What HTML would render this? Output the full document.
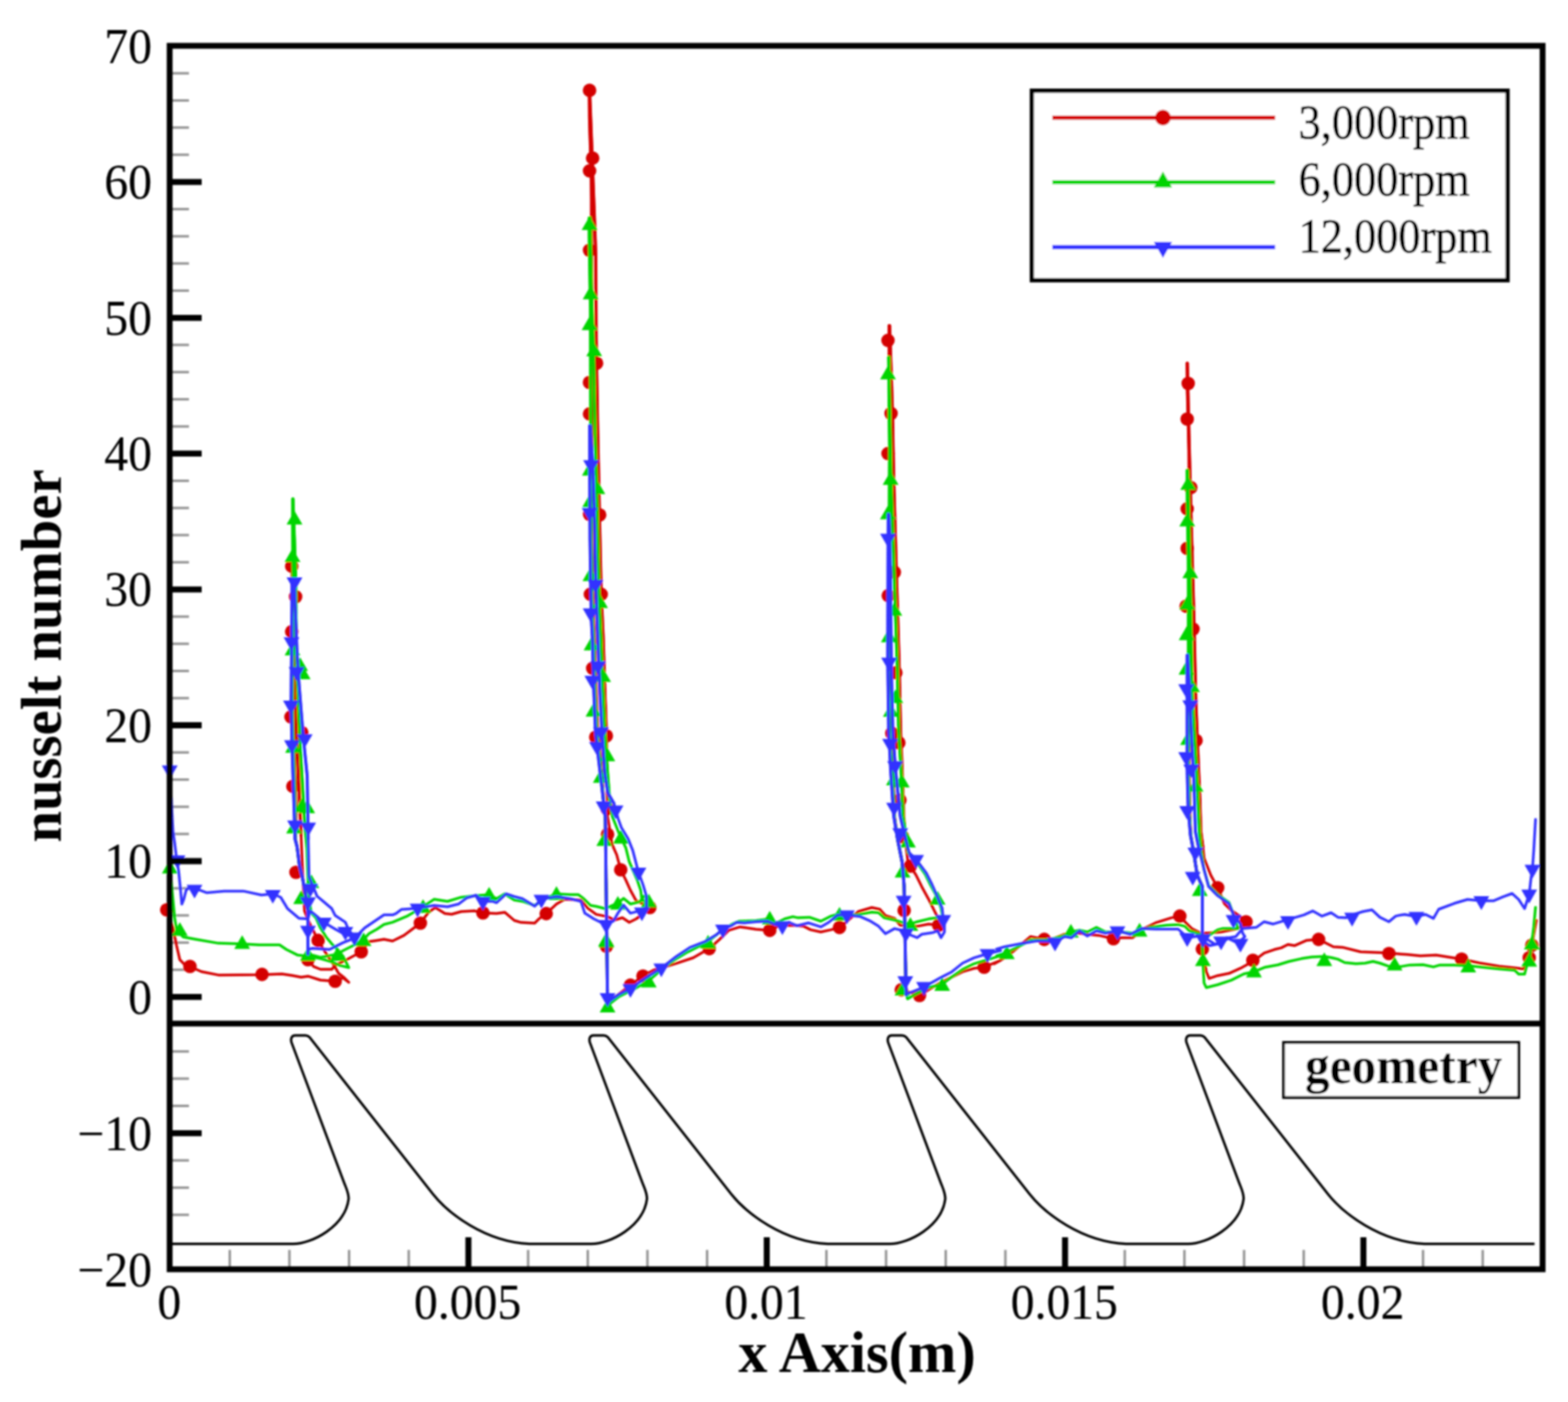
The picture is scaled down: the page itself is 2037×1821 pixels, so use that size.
<!DOCTYPE html>
<html lang="en"><head><meta charset="utf-8"><title>nusselt number vs x Axis(m)</title>
<style>
html,body{margin:0;padding:0;background:#fff;}
body{width:2037px;height:1821px;overflow:hidden;}
svg{display:block;}
text{font-family:"Liberation Serif",serif;fill:#000;}
.b{font-weight:bold;}
</style></head><body>
<svg width="2037" height="1821" viewBox="0 0 2037 1821" role="img" aria-label="Nusselt number distribution along x axis for 3,000, 6,000 and 12,000 rpm with geometry outline">
<defs><filter id="bl" x="-2%" y="-2%" width="104%" height="104%"><feGaussianBlur stdDeviation="0.9"/></filter></defs>
<rect width="2037" height="1821" fill="#fff"/>
<g filter="url(#bl)">
<g stroke="#000" stroke-width="3.2" stroke-opacity="0.42">
<line x1="220.4" y1="1577.9" x2="245.5" y2="1577.9"/>
<line x1="220.4" y1="1542.6" x2="245.5" y2="1542.6"/>
<line x1="220.4" y1="1507.2" x2="245.5" y2="1507.2"/>
<line x1="220.4" y1="1436.4" x2="245.5" y2="1436.4"/>
<line x1="220.4" y1="1401.0" x2="245.5" y2="1401.0"/>
<line x1="220.4" y1="1365.7" x2="245.5" y2="1365.7"/>
<line x1="220.4" y1="1259.6" x2="245.5" y2="1259.6"/>
<line x1="220.4" y1="1224.3" x2="245.5" y2="1224.3"/>
<line x1="220.4" y1="1189.0" x2="245.5" y2="1189.0"/>
<line x1="220.4" y1="1153.8" x2="245.5" y2="1153.8"/>
<line x1="220.4" y1="1083.2" x2="245.5" y2="1083.2"/>
<line x1="220.4" y1="1047.9" x2="245.5" y2="1047.9"/>
<line x1="220.4" y1="1012.6" x2="245.5" y2="1012.6"/>
<line x1="220.4" y1="977.3" x2="245.5" y2="977.3"/>
<line x1="220.4" y1="906.8" x2="245.5" y2="906.8"/>
<line x1="220.4" y1="871.5" x2="245.5" y2="871.5"/>
<line x1="220.4" y1="836.2" x2="245.5" y2="836.2"/>
<line x1="220.4" y1="800.9" x2="245.5" y2="800.9"/>
<line x1="220.4" y1="730.3" x2="245.5" y2="730.3"/>
<line x1="220.4" y1="695.0" x2="245.5" y2="695.0"/>
<line x1="220.4" y1="659.8" x2="245.5" y2="659.8"/>
<line x1="220.4" y1="624.5" x2="245.5" y2="624.5"/>
<line x1="220.4" y1="553.9" x2="245.5" y2="553.9"/>
<line x1="220.4" y1="518.6" x2="245.5" y2="518.6"/>
<line x1="220.4" y1="483.3" x2="245.5" y2="483.3"/>
<line x1="220.4" y1="448.0" x2="245.5" y2="448.0"/>
<line x1="220.4" y1="377.5" x2="245.5" y2="377.5"/>
<line x1="220.4" y1="342.2" x2="245.5" y2="342.2"/>
<line x1="220.4" y1="306.9" x2="245.5" y2="306.9"/>
<line x1="220.4" y1="271.6" x2="245.5" y2="271.6"/>
<line x1="220.4" y1="201.0" x2="245.5" y2="201.0"/>
<line x1="220.4" y1="165.7" x2="245.5" y2="165.7"/>
<line x1="220.4" y1="130.5" x2="245.5" y2="130.5"/>
<line x1="220.4" y1="95.2" x2="245.5" y2="95.2"/>
<line x1="298.5" y1="1648.6" x2="298.5" y2="1623.5"/>
<line x1="376.0" y1="1648.6" x2="376.0" y2="1623.5"/>
<line x1="453.5" y1="1648.6" x2="453.5" y2="1623.5"/>
<line x1="531.0" y1="1648.6" x2="531.0" y2="1623.5"/>
<line x1="686.1" y1="1648.6" x2="686.1" y2="1623.5"/>
<line x1="763.6" y1="1648.6" x2="763.6" y2="1623.5"/>
<line x1="841.1" y1="1648.6" x2="841.1" y2="1623.5"/>
<line x1="918.6" y1="1648.6" x2="918.6" y2="1623.5"/>
<line x1="1073.6" y1="1648.6" x2="1073.6" y2="1623.5"/>
<line x1="1151.1" y1="1648.6" x2="1151.1" y2="1623.5"/>
<line x1="1228.6" y1="1648.6" x2="1228.6" y2="1623.5"/>
<line x1="1306.1" y1="1648.6" x2="1306.1" y2="1623.5"/>
<line x1="1461.2" y1="1648.6" x2="1461.2" y2="1623.5"/>
<line x1="1538.7" y1="1648.6" x2="1538.7" y2="1623.5"/>
<line x1="1616.2" y1="1648.6" x2="1616.2" y2="1623.5"/>
<line x1="1693.7" y1="1648.6" x2="1693.7" y2="1623.5"/>
<line x1="1848.7" y1="1648.6" x2="1848.7" y2="1623.5"/>
<line x1="1926.2" y1="1648.6" x2="1926.2" y2="1623.5"/>
</g>
<path transform="translate(0,1.1)" d="M220.5,1614.5 L381.0,1614.5 C405.0,1614.5 448.5,1592.0 452.9,1556.0 C452.9,1548.0 450.5,1544.0 447.0,1535.0 L378.8,1353.2 C377.3,1348.5 378.5,1343.8 383.4,1343.8 L396.7,1343.8 C399.0,1343.8 400.3,1344.2 402.0,1346.0 L562.5,1549.9 C582.0,1574.5 630.0,1612.0 687.7,1614.5 L768.5,1614.5 M687.7,1614.5 L768.5,1614.5 C792.5,1614.5 836.0,1592.0 840.5,1556.0 C840.5,1548.0 838.0,1544.0 834.5,1535.0 L766.4,1353.2 C764.9,1348.5 766.0,1343.8 771.0,1343.8 L784.2,1343.8 C786.5,1343.8 787.9,1344.2 789.5,1346.0 L950.0,1549.9 C969.5,1574.5 1017.5,1612.0 1075.2,1614.5 L1156.1,1614.5 M1075.2,1614.5 L1156.1,1614.5 C1180.1,1614.5 1223.6,1592.0 1228.0,1556.0 C1228.0,1548.0 1225.6,1544.0 1222.1,1535.0 L1153.9,1353.2 C1152.4,1348.5 1153.6,1343.8 1158.5,1343.8 L1171.8,1343.8 C1174.1,1343.8 1175.4,1344.2 1177.1,1346.0 L1337.6,1549.9 C1357.1,1574.5 1405.1,1612.0 1462.8,1614.5 L1543.7,1614.5 M1462.8,1614.5 L1543.7,1614.5 C1567.7,1614.5 1611.2,1592.0 1615.6,1556.0 C1615.6,1548.0 1613.2,1544.0 1609.7,1535.0 L1541.5,1353.2 C1540.0,1348.5 1541.2,1343.8 1546.1,1343.8 L1559.4,1343.8 C1561.7,1343.8 1563.0,1344.2 1564.7,1346.0 L1725.2,1549.9 C1744.7,1574.5 1792.7,1612.0 1850.4,1614.5 L1993.5,1614.5" fill="none" stroke="#000" stroke-width="3.2" stroke-linejoin="round"/>
<path d="M216.6,1181.7 L224.7,1205.2 L229.2,1227.3 L233.6,1246.5 L239.5,1252.4 L246.8,1255.3 L261.6,1262.0 L283.7,1266.4 L340.4,1265.9 L366.2,1264.9 L379.4,1267.1 L391.2,1269.3 L400.1,1267.9 L416.3,1273.0 L435.4,1274.5 L445.7,1270.1 L453.1,1276.0 L453.1,1276.0 L447.2,1270.0 L439.8,1264.2 L434.0,1253.9 L422.2,1236.2 L413.3,1221.4 L401.5,1197.9 L395.6,1183.0 L392.7,1124.2 L391.2,1085.0 L388.6,1021.4 L385.9,955.5 L383.3,889.6 L382.0,775.0 L379.5,728.0 L379.7,728.0 L379.6,755.0 L380.3,786.7 L381.1,818.3 L381.8,850.0 L381.5,883.0 L381.2,916.0 L381.8,942.0 L382.3,968.0 L383.2,994.7 L384.1,1021.3 L384.6,1048.0 L384.2,1069.0 L383.8,1090.0 L386.0,1100.0 L389.0,1124.0 L392.7,1139.0 L397.0,1162.0 L400.0,1183.0 L400.0,1211.0 L400.0,1239.0 L400.0,1246.0 L400.1,1246.5 L407.4,1255.3 L416.3,1259.0 L431.0,1259.0 L435.4,1253.9 L453.1,1245.0 L469.3,1236.2 L479.6,1222.9 L489.9,1221.4 L498.8,1220.0 L510.0,1222.2 L524.9,1214.9 L546.1,1199.0 L556.7,1184.9 L565.5,1178.7 L577.9,1186.6 L586.7,1187.5 L599.1,1184.0 L616.8,1183.1 L627.4,1185.7 L645.1,1186.6 L655.7,1184.9 L668.1,1195.5 L676.9,1198.1 L694.6,1199.0 L699.9,1193.7 L709.6,1186.6 L722.9,1174.3 L733.5,1168.1 L754.7,1169.0 L763.6,1179.6 L774.5,1187.6 L789.3,1190.6 L798.2,1195.0 L808.6,1192.0 L817.5,1198.0 L826.4,1193.5 L836.8,1186.1 L844.2,1178.7 L844.2,1178.7 L826.4,1169.8 L819.0,1156.4 L813.0,1143.0 L806.4,1129.7 L801.2,1110.4 L795.3,1097.0 L789.3,1060.0 L788.5,1010.0 L787.7,950.0 L785.5,890.0 L783.7,830.0 L781.0,770.0 L779.0,680.0 L776.5,560.0 L774.5,440.0 L774.0,330.0 L772.5,287.8 L769.5,208.7 L766.0,117.4 L765.5,117.4 L765.8,152.8 L766.9,188.3 L768.1,223.7 L768.5,259.1 L768.5,294.6 L768.5,330.0 L768.6,368.3 L768.7,406.7 L768.8,445.0 L768.8,483.3 L768.9,521.7 L769.0,560.0 L769.1,595.0 L769.2,630.0 L769.4,665.0 L769.5,700.0 L770.0,733.3 L770.5,766.7 L771.0,800.0 L772.6,830.0 L773.5,865.0 L774.5,900.0 L775.5,925.0 L776.6,950.0 L778.8,970.0 L780.8,990.0 L782.5,1015.0 L784.4,1045.0 L786.4,1060.0 L786.8,1092.5 L787.1,1125.0 L787.5,1157.5 L787.9,1190.0 L788.4,1226.7 L788.8,1263.3 L789.3,1300.0 L792.3,1300.4 L819.0,1279.6 L835.3,1267.7 L848.7,1260.3 L878.4,1251.4 L900.6,1244.0 L921.4,1232.1 L934.7,1220.2 L946.6,1208.4 L961.5,1203.9 L982.2,1206.9 L1000.0,1208.4 L1011.9,1202.4 L1030.0,1201.7 L1044.2,1203.1 L1053.0,1207.6 L1066.3,1210.5 L1079.6,1207.6 L1090.6,1204.6 L1103.1,1194.3 L1114.9,1184.0 L1132.6,1178.8 L1142.9,1181.0 L1150.3,1189.1 L1162.1,1192.8 L1169.4,1201.7 L1191.5,1203.1 L1206.3,1200.2 L1219.5,1201.7 L1225.4,1203.1 L1221.0,1197.2 L1213.6,1182.5 L1206.3,1167.8 L1197.4,1151.6 L1190.1,1136.8 L1182.7,1125.0 L1179.8,1122.1 L1176.0,1090.0 L1174.0,1060.0 L1172.0,1000.0 L1170.0,950.0 L1168.0,860.0 L1165.0,760.0 L1161.0,620.0 L1159.5,537.0 L1155.8,423.0 L1155.0,423.0 L1155.2,462.4 L1156.0,501.8 L1156.9,541.2 L1156.7,580.6 L1156.5,620.0 L1156.4,654.3 L1156.3,688.6 L1156.2,722.9 L1156.1,757.1 L1156.0,791.4 L1155.9,825.7 L1155.8,860.0 L1156.2,890.0 L1156.6,920.0 L1157.0,950.0 L1158.2,975.0 L1159.5,1000.0 L1161.3,1030.0 L1162.0,1060.0 L1166.0,1090.0 L1172.0,1120.0 L1174.5,1150.0 L1175.1,1181.2 L1175.7,1212.5 L1176.2,1243.8 L1176.8,1275.0 L1177.5,1292.0 L1170.9,1285.6 L1194.5,1293.0 L1206.3,1285.6 L1221.0,1276.8 L1235.7,1269.4 L1250.5,1262.1 L1265.2,1257.7 L1278.5,1256.2 L1300.0,1247.3 L1291.8,1251.8 L1309.5,1241.4 L1328.6,1225.2 L1338.9,1216.4 L1346.3,1217.9 L1356.6,1220.1 L1368.4,1219.3 L1383.1,1213.5 L1402.3,1212.0 L1412.6,1213.5 L1427.3,1214.9 L1446.5,1219.3 L1456.8,1217.9 L1471.5,1217.9 L1486.3,1206.1 L1501.0,1198.7 L1521.6,1192.1 L1532.7,1189.9 L1540.8,1198.7 L1548.2,1206.1 L1559.9,1212.0 L1568.6,1212.0 L1586.3,1210.5 L1608.4,1206.1 L1618.7,1197.2 L1618.7,1197.2 L1608.4,1188.4 L1599.6,1182.5 L1590.7,1173.7 L1581.9,1153.0 L1573.0,1136.8 L1564.2,1114.7 L1562.7,1100.0 L1560.0,1080.0 L1558.8,1040.0 L1555.5,960.0 L1553.5,910.0 L1551.0,800.0 L1547.6,680.0 L1545.0,580.0 L1542.5,471.6 L1542.3,471.6 L1542.3,472.0 L1542.6,509.7 L1543.6,547.4 L1544.6,585.1 L1544.8,622.9 L1544.8,660.6 L1544.8,698.3 L1544.8,736.0 L1544.8,773.7 L1544.8,811.4 L1544.8,849.1 L1544.8,886.9 L1544.8,924.6 L1544.8,962.3 L1544.8,1000.0 L1545.4,1025.0 L1545.4,1050.0 L1546.9,1085.0 L1549.5,1100.0 L1555.4,1136.8 L1562.0,1151.6 L1562.0,1186.3 L1562.0,1221.0 L1562.0,1232.6 L1564.2,1244.4 L1567.1,1262.1 L1570.8,1270.9 L1581.9,1267.2 L1596.6,1264.3 L1611.4,1257.7 L1627.6,1248.8 L1642.3,1237.8 L1655.6,1233.3 L1664.4,1231.1 L1673.2,1226.7 L1682.1,1228.2 L1696.8,1221.6 L1713.0,1220.1 L1732.2,1229.7 L1744.0,1230.4 L1767.5,1236.3 L1785.2,1237.0 L1804.4,1237.8 L1820.0,1239.2 L1828.1,1239.8 L1845.2,1241.5 L1865.6,1240.6 L1882.7,1243.2 L1898.8,1245.7 L1921.8,1250.8 L1947.4,1255.1 L1964.4,1256.8 L1979.8,1258.5 L1983.2,1248.3 L1986.6,1244.0 L1990.0,1232.9 L1990.0,1227.8 L1995.9,1195.5" fill="none" stroke="#d40000" stroke-width="3.5" stroke-linejoin="round" stroke-linecap="round"/>
<path d="M391.2,1085.0 L388.6,1021.4 L385.9,955.5 L383.3,889.6 L382.0,775.0 L379.5,728.0" fill="none" stroke="#d40000" stroke-width="3.9" stroke-linejoin="round" stroke-linecap="round"/>
<path d="M379.7,728.0 L379.6,755.0 L380.3,786.7 L381.1,818.3 L381.8,850.0 L381.5,883.0 L381.2,916.0 L381.8,942.0 L382.3,968.0 L383.2,994.7 L384.1,1021.3 L384.6,1048.0 L384.2,1069.0 L383.8,1090.0 L386.0,1100.0 L389.0,1124.0 L392.7,1139.0 L397.0,1162.0 L400.0,1183.0 L400.0,1211.0 L400.0,1239.0" fill="none" stroke="#d40000" stroke-width="3.9" stroke-linejoin="round" stroke-linecap="round"/>
<path d="M788.5,1010.0 L787.7,950.0 L785.5,890.0 L783.7,830.0 L781.0,770.0 L779.0,680.0 L776.5,560.0 L774.5,440.0 L774.0,330.0 L772.5,287.8 L769.5,208.7 L766.0,117.4" fill="none" stroke="#d40000" stroke-width="3.9" stroke-linejoin="round" stroke-linecap="round"/>
<path d="M765.5,117.4 L765.8,152.8 L766.9,188.3 L768.1,223.7 L768.5,259.1 L768.5,294.6 L768.5,330.0 L768.6,368.3 L768.7,406.7 L768.8,445.0 L768.8,483.3 L768.9,521.7 L769.0,560.0 L769.1,595.0 L769.2,630.0 L769.4,665.0 L769.5,700.0 L770.0,733.3 L770.5,766.7 L771.0,800.0 L772.6,830.0 L773.5,865.0 L774.5,900.0 L775.5,925.0 L776.6,950.0 L778.8,970.0 L780.8,990.0 L782.5,1015.0 L784.4,1045.0 L786.4,1060.0 L786.8,1092.5 L787.1,1125.0 L787.5,1157.5 L787.9,1190.0 L788.4,1226.7 L788.8,1263.3 L789.3,1300.0" fill="none" stroke="#d40000" stroke-width="3.9" stroke-linejoin="round" stroke-linecap="round"/>
<path d="M1176.0,1090.0 L1174.0,1060.0 L1172.0,1000.0 L1170.0,950.0 L1168.0,860.0 L1165.0,760.0 L1161.0,620.0 L1159.5,537.0 L1155.8,423.0" fill="none" stroke="#d40000" stroke-width="3.9" stroke-linejoin="round" stroke-linecap="round"/>
<path d="M1155.0,423.0 L1155.2,462.4 L1156.0,501.8 L1156.9,541.2 L1156.7,580.6 L1156.5,620.0 L1156.4,654.3 L1156.3,688.6 L1156.2,722.9 L1156.1,757.1 L1156.0,791.4 L1155.9,825.7 L1155.8,860.0 L1156.2,890.0 L1156.6,920.0 L1157.0,950.0 L1158.2,975.0 L1159.5,1000.0 L1161.3,1030.0 L1162.0,1060.0 L1166.0,1090.0 L1172.0,1120.0 L1174.5,1150.0 L1175.1,1181.2 L1175.7,1212.5 L1176.2,1243.8 L1176.8,1275.0 L1177.5,1292.0" fill="none" stroke="#d40000" stroke-width="3.9" stroke-linejoin="round" stroke-linecap="round"/>
<path d="M1562.7,1100.0 L1560.0,1080.0 L1558.8,1040.0 L1555.5,960.0 L1553.5,910.0 L1551.0,800.0 L1547.6,680.0 L1545.0,580.0 L1542.5,471.6" fill="none" stroke="#d40000" stroke-width="3.9" stroke-linejoin="round" stroke-linecap="round"/>
<path d="M1542.3,471.6 L1542.3,472.0 L1542.6,509.7 L1543.6,547.4 L1544.6,585.1 L1544.8,622.9 L1544.8,660.6 L1544.8,698.3 L1544.8,736.0 L1544.8,773.7 L1544.8,811.4 L1544.8,849.1 L1544.8,886.9 L1544.8,924.6 L1544.8,962.3 L1544.8,1000.0 L1545.4,1025.0 L1545.4,1050.0 L1546.9,1085.0 L1549.5,1100.0 L1555.4,1136.8 L1562.0,1151.6 L1562.0,1186.3 L1562.0,1221.0" fill="none" stroke="#d40000" stroke-width="3.9" stroke-linejoin="round" stroke-linecap="round"/>
<circle cx="216.6" cy="1181.7" r="8.8" fill="#d40000"/>
<circle cx="246.8" cy="1255.3" r="8.8" fill="#d40000"/>
<circle cx="340.4" cy="1265.6" r="8.8" fill="#d40000"/>
<circle cx="435.4" cy="1274.5" r="8.8" fill="#d40000"/>
<circle cx="413.3" cy="1221.4" r="8.8" fill="#d40000"/>
<circle cx="400.1" cy="1246.5" r="8.8" fill="#d40000"/>
<circle cx="469.3" cy="1236.2" r="8.8" fill="#d40000"/>
<circle cx="379.0" cy="735.4" r="8.8" fill="#d40000"/>
<circle cx="379.0" cy="820.4" r="8.8" fill="#d40000"/>
<circle cx="378.0" cy="931.1" r="8.8" fill="#d40000"/>
<circle cx="380.5" cy="1021.4" r="8.8" fill="#d40000"/>
<circle cx="384.5" cy="1133.0" r="8.8" fill="#d40000"/>
<circle cx="384.0" cy="775.0" r="8.8" fill="#d40000"/>
<circle cx="392.0" cy="951.5" r="8.8" fill="#d40000"/>
<circle cx="546.1" cy="1199.0" r="8.8" fill="#d40000"/>
<circle cx="627.4" cy="1185.7" r="8.8" fill="#d40000"/>
<circle cx="709.6" cy="1186.6" r="8.8" fill="#d40000"/>
<circle cx="844.2" cy="1178.7" r="8.8" fill="#d40000"/>
<circle cx="806.4" cy="1129.7" r="8.8" fill="#d40000"/>
<circle cx="789.3" cy="1083.7" r="8.8" fill="#d40000"/>
<circle cx="787.9" cy="1229.1" r="8.8" fill="#d40000"/>
<circle cx="819.0" cy="1279.6" r="8.8" fill="#d40000"/>
<circle cx="835.3" cy="1267.7" r="8.8" fill="#d40000"/>
<circle cx="921.4" cy="1232.1" r="8.8" fill="#d40000"/>
<circle cx="1000.0" cy="1208.4" r="8.8" fill="#d40000"/>
<circle cx="788.8" cy="1050.3" r="8.8" fill="#d40000"/>
<circle cx="787.7" cy="955.8" r="8.8" fill="#d40000"/>
<circle cx="781.0" cy="771.9" r="8.8" fill="#d40000"/>
<circle cx="779.0" cy="668.8" r="8.8" fill="#d40000"/>
<circle cx="775.0" cy="471.7" r="8.8" fill="#d40000"/>
<circle cx="769.9" cy="205.4" r="8.8" fill="#d40000"/>
<circle cx="765.9" cy="117.4" r="8.8" fill="#d40000"/>
<circle cx="765.9" cy="221.9" r="8.8" fill="#d40000"/>
<circle cx="765.9" cy="325.0" r="8.8" fill="#d40000"/>
<circle cx="765.8" cy="496.7" r="8.8" fill="#d40000"/>
<circle cx="765.9" cy="537.6" r="8.8" fill="#d40000"/>
<circle cx="766.0" cy="668.0" r="8.8" fill="#d40000"/>
<circle cx="767.0" cy="771.9" r="8.8" fill="#d40000"/>
<circle cx="770.0" cy="868.0" r="8.8" fill="#d40000"/>
<circle cx="774.0" cy="957.5" r="8.8" fill="#d40000"/>
<circle cx="1090.6" cy="1204.6" r="8.8" fill="#d40000"/>
<circle cx="1219.5" cy="1201.7" r="8.8" fill="#d40000"/>
<circle cx="1182.7" cy="1125.0" r="8.8" fill="#d40000"/>
<circle cx="1174.6" cy="1182.5" r="8.8" fill="#d40000"/>
<circle cx="1170.9" cy="1285.6" r="8.8" fill="#d40000"/>
<circle cx="1194.5" cy="1293.0" r="8.8" fill="#d40000"/>
<circle cx="1278.5" cy="1256.2" r="8.8" fill="#d40000"/>
<circle cx="1172.4" cy="1086.8" r="8.8" fill="#d40000"/>
<circle cx="1169.0" cy="1039.3" r="8.8" fill="#d40000"/>
<circle cx="1167.7" cy="964.8" r="8.8" fill="#d40000"/>
<circle cx="1163.8" cy="873.8" r="8.8" fill="#d40000"/>
<circle cx="1161.8" cy="743.3" r="8.8" fill="#d40000"/>
<circle cx="1157.6" cy="537.0" r="8.8" fill="#d40000"/>
<circle cx="1153.6" cy="442.1" r="8.8" fill="#d40000"/>
<circle cx="1153.6" cy="589.1" r="8.8" fill="#d40000"/>
<circle cx="1154.0" cy="773.6" r="8.8" fill="#d40000"/>
<circle cx="1158.6" cy="952.3" r="8.8" fill="#d40000"/>
<circle cx="1356.6" cy="1220.1" r="8.8" fill="#d40000"/>
<circle cx="1446.5" cy="1219.3" r="8.8" fill="#d40000"/>
<circle cx="1532.7" cy="1189.9" r="8.8" fill="#d40000"/>
<circle cx="1618.7" cy="1197.2" r="8.8" fill="#d40000"/>
<circle cx="1581.9" cy="1153.0" r="8.8" fill="#d40000"/>
<circle cx="1562.0" cy="1232.6" r="8.8" fill="#d40000"/>
<circle cx="1627.6" cy="1247.3" r="8.8" fill="#d40000"/>
<circle cx="1713.0" cy="1220.1" r="8.8" fill="#d40000"/>
<circle cx="1804.4" cy="1238.5" r="8.8" fill="#d40000"/>
<circle cx="1553.8" cy="961.8" r="8.8" fill="#d40000"/>
<circle cx="1549.8" cy="817.0" r="8.8" fill="#d40000"/>
<circle cx="1546.9" cy="633.2" r="8.8" fill="#d40000"/>
<circle cx="1543.6" cy="498.0" r="8.8" fill="#d40000"/>
<circle cx="1542.3" cy="544.2" r="8.8" fill="#d40000"/>
<circle cx="1542.3" cy="660.9" r="8.8" fill="#d40000"/>
<circle cx="1542.3" cy="712.2" r="8.8" fill="#d40000"/>
<circle cx="1541.0" cy="787.4" r="8.8" fill="#d40000"/>
<circle cx="1898.8" cy="1245.7" r="8.8" fill="#d40000"/>
<circle cx="1986.6" cy="1244.0" r="8.8" fill="#d40000"/>
<circle cx="1990.0" cy="1227.8" r="8.8" fill="#d40000"/>
<path d="M220.6,1125.7 L224.7,1168.4 L226.9,1192.0 L229.2,1206.7 L233.6,1212.6 L238.0,1217.0 L254.2,1220.0 L283.7,1225.1 L314.6,1225.9 L336.7,1227.3 L363.2,1227.3 L372.1,1233.2 L386.8,1240.6 L400.1,1242.1 L416.3,1245.0 L431.0,1249.4 L441.3,1253.9 L453.1,1256.8 L453.1,1256.8 L445.7,1242.0 L438.4,1233.2 L431.0,1225.9 L423.6,1217.0 L416.3,1205.2 L410.4,1192.0 L404.5,1186.0 L401.5,1168.4 L400.0,1139.0 L398.6,1102.0 L396.5,1080.0 L393.8,1034.6 L389.9,968.7 L384.8,850.0 L384.3,755.0 L382.5,700.0 L380.6,648.0 L380.4,648.0 L380.3,683.7 L380.5,719.3 L380.8,755.0 L380.8,786.7 L380.5,818.3 L380.3,850.0 L380.0,883.0 L379.7,916.0 L380.2,942.0 L380.8,968.0 L381.7,994.7 L382.6,1021.3 L383.3,1048.0 L383.4,1069.0 L383.6,1090.0 L386.0,1100.0 L389.0,1124.0 L392.7,1139.0 L397.0,1162.0 L400.0,1183.0 L400.0,1211.0 L400.0,1239.0 L416.3,1243.5 L431.0,1240.6 L438.4,1239.1 L445.7,1234.7 L460.5,1227.3 L472.3,1220.0 L479.6,1212.6 L489.9,1206.7 L498.8,1200.8 L510.0,1197.9 L528.4,1190.2 L549.6,1177.8 L563.8,1168.1 L581.4,1170.7 L599.1,1165.4 L616.8,1163.6 L635.4,1161.9 L645.1,1167.2 L655.7,1161.0 L668.1,1169.0 L678.7,1170.7 L694.6,1176.0 L712.3,1165.4 L722.9,1161.0 L740.6,1161.9 L751.2,1161.9 L758.2,1167.2 L767.1,1176.0 L774.5,1177.2 L786.4,1180.2 L802.7,1172.8 L810.1,1166.8 L819.0,1174.2 L830.9,1171.3 L836.8,1163.9 L842.8,1169.8 L833.9,1169.8 L832.4,1156.4 L827.9,1143.1 L817.5,1119.3 L813.1,1101.5 L804.2,1082.3 L795.3,1060.0 L792.0,1040.0 L789.0,1000.0 L785.7,950.0 L783.0,890.0 L780.7,830.0 L778.5,780.0 L776.5,700.0 L775.5,650.0 L773.0,560.0 L771.0,455.0 L768.5,382.0 L766.5,283.0 L765.5,283.0 L765.5,306.5 L765.8,330.0 L766.5,368.3 L767.2,406.7 L767.2,445.0 L767.3,483.3 L767.4,521.7 L767.5,560.0 L767.6,595.0 L767.8,630.0 L767.9,665.0 L768.0,700.0 L768.5,733.3 L769.0,766.7 L769.5,800.0 L771.1,830.0 L772.0,865.0 L773.0,900.0 L774.0,925.0 L775.1,950.0 L777.3,970.0 L779.4,990.0 L781.8,1015.0 L784.4,1045.0 L786.4,1060.0 L786.8,1092.5 L787.1,1125.0 L787.5,1157.5 L787.9,1190.0 L788.4,1226.7 L788.8,1263.3 L789.3,1300.0 L789.3,1306.0 L804.2,1294.4 L825.0,1284.0 L842.8,1273.6 L863.5,1255.8 L878.4,1245.5 L893.2,1236.6 L919.9,1223.2 L937.7,1208.4 L952.6,1199.5 L960.0,1196.5 L982.2,1195.8 L1000.0,1193.5 L1007.4,1199.5 L1019.3,1193.5 L1030.0,1190.6 L1036.8,1192.1 L1051.6,1191.4 L1066.3,1196.5 L1079.6,1189.9 L1090.6,1186.9 L1112.0,1188.4 L1132.6,1184.7 L1141.4,1185.5 L1148.8,1192.1 L1162.1,1195.0 L1173.9,1198.7 L1182.7,1200.2 L1191.5,1197.2 L1206.3,1193.6 L1218.1,1192.1 L1225.4,1195.8 L1225.4,1195.8 L1222.5,1179.6 L1218.1,1166.3 L1209.2,1150.1 L1201.9,1135.4 L1191.5,1120.6 L1179.8,1107.4 L1177.0,1085.0 L1173.0,1060.0 L1170.5,1000.0 L1167.5,950.0 L1165.5,860.0 L1162.0,760.0 L1157.5,620.0 L1154.5,464.0 L1154.8,464.0 L1154.8,503.0 L1155.2,542.0 L1155.7,581.0 L1155.5,620.0 L1155.4,654.3 L1155.3,688.6 L1155.2,722.9 L1155.1,757.1 L1155.0,791.4 L1154.9,825.7 L1154.8,860.0 L1155.2,890.0 L1155.6,920.0 L1156.0,950.0 L1157.2,975.0 L1158.5,1000.0 L1160.4,1030.0 L1161.6,1060.0 L1166.0,1090.0 L1172.0,1120.0 L1174.5,1150.0 L1175.1,1181.2 L1175.7,1212.5 L1176.2,1243.8 L1176.8,1275.0 L1177.5,1292.0 L1179.0,1297.4 L1191.5,1290.1 L1206.3,1282.7 L1224.0,1278.3 L1235.7,1269.4 L1250.5,1259.1 L1265.2,1251.8 L1279.9,1247.3 L1300.0,1241.4 L1294.7,1241.4 L1308.0,1237.0 L1328.6,1226.7 L1338.9,1220.8 L1356.6,1220.8 L1368.4,1219.3 L1383.1,1214.9 L1391.2,1210.5 L1402.3,1208.3 L1412.6,1210.5 L1424.4,1204.6 L1436.2,1210.5 L1456.8,1210.5 L1471.5,1212.0 L1480.4,1209.0 L1493.6,1204.6 L1515.7,1201.7 L1530.5,1200.9 L1539.3,1203.1 L1545.2,1209.0 L1559.9,1213.5 L1568.6,1216.4 L1581.9,1207.6 L1587.8,1206.1 L1608.4,1206.1 L1608.4,1206.1 L1602.5,1188.4 L1596.6,1172.2 L1581.9,1161.9 L1570.1,1150.1 L1564.2,1129.5 L1559.8,1100.0 L1558.0,1080.0 L1555.0,1012.0 L1552.0,960.0 L1548.5,900.0 L1546.0,745.0 L1542.8,611.0 L1542.3,611.0 L1542.5,649.9 L1543.1,688.8 L1543.7,727.7 L1543.8,766.6 L1543.8,805.5 L1543.8,844.4 L1543.8,883.3 L1543.8,922.2 L1543.8,961.1 L1543.8,1000.0 L1544.4,1025.0 L1544.6,1050.0 L1546.8,1085.0 L1549.5,1100.0 L1555.4,1136.8 L1562.0,1151.6 L1562.0,1186.3 L1562.0,1221.0 L1562.5,1245.0 L1564.2,1276.8 L1567.1,1282.7 L1581.9,1279.0 L1599.6,1273.1 L1615.8,1265.0 L1629.0,1262.1 L1643.8,1256.2 L1660.0,1253.2 L1674.7,1248.8 L1690.9,1245.1 L1704.2,1242.9 L1720.4,1242.2 L1729.2,1243.7 L1738.1,1245.9 L1746.9,1250.3 L1761.6,1251.8 L1773.4,1251.0 L1783.7,1248.8 L1792.6,1251.0 L1802.9,1254.7 L1820.0,1255.4 L1831.6,1253.4 L1848.6,1253.0 L1862.2,1255.9 L1870.7,1253.4 L1889.5,1253.4 L1907.4,1254.2 L1930.4,1256.8 L1947.4,1258.5 L1967.8,1260.2 L1972.9,1265.3 L1980.6,1265.3 L1983.2,1255.1 L1986.6,1246.6 L1989.1,1231.2 L1990.0,1224.4 L1992.5,1204.0 L1994.8,1178.4" fill="none" stroke="#00d400" stroke-width="3.5" stroke-linejoin="round" stroke-linecap="round"/>
<path d="M396.5,1080.0 L393.8,1034.6 L389.9,968.7 L384.8,850.0 L384.3,755.0 L382.5,700.0 L380.6,648.0" fill="none" stroke="#00d400" stroke-width="3.9" stroke-linejoin="round" stroke-linecap="round"/>
<path d="M380.4,648.0 L380.3,683.7 L380.5,719.3 L380.8,755.0 L380.8,786.7 L380.5,818.3 L380.3,850.0 L380.0,883.0 L379.7,916.0 L380.2,942.0 L380.8,968.0 L381.7,994.7 L382.6,1021.3 L383.3,1048.0 L383.4,1069.0 L383.6,1090.0 L386.0,1100.0 L389.0,1124.0 L392.7,1139.0 L397.0,1162.0 L400.0,1183.0 L400.0,1211.0 L400.0,1239.0" fill="none" stroke="#00d400" stroke-width="3.9" stroke-linejoin="round" stroke-linecap="round"/>
<path d="M792.0,1040.0 L789.0,1000.0 L785.7,950.0 L783.0,890.0 L780.7,830.0 L778.5,780.0 L776.5,700.0 L775.5,650.0 L773.0,560.0 L771.0,455.0 L768.5,382.0 L766.5,283.0" fill="none" stroke="#00d400" stroke-width="3.9" stroke-linejoin="round" stroke-linecap="round"/>
<path d="M765.5,283.0 L765.5,306.5 L765.8,330.0 L766.5,368.3 L767.2,406.7 L767.2,445.0 L767.3,483.3 L767.4,521.7 L767.5,560.0 L767.6,595.0 L767.8,630.0 L767.9,665.0 L768.0,700.0 L768.5,733.3 L769.0,766.7 L769.5,800.0 L771.1,830.0 L772.0,865.0 L773.0,900.0 L774.0,925.0 L775.1,950.0 L777.3,970.0 L779.4,990.0 L781.8,1015.0 L784.4,1045.0 L786.4,1060.0 L786.8,1092.5 L787.1,1125.0 L787.5,1157.5 L787.9,1190.0 L788.4,1226.7 L788.8,1263.3 L789.3,1300.0" fill="none" stroke="#00d400" stroke-width="3.9" stroke-linejoin="round" stroke-linecap="round"/>
<path d="M1177.0,1085.0 L1173.0,1060.0 L1170.5,1000.0 L1167.5,950.0 L1165.5,860.0 L1162.0,760.0 L1157.5,620.0 L1154.5,464.0" fill="none" stroke="#00d400" stroke-width="3.9" stroke-linejoin="round" stroke-linecap="round"/>
<path d="M1154.8,464.0 L1154.8,503.0 L1155.2,542.0 L1155.7,581.0 L1155.5,620.0 L1155.4,654.3 L1155.3,688.6 L1155.2,722.9 L1155.1,757.1 L1155.0,791.4 L1154.9,825.7 L1154.8,860.0 L1155.2,890.0 L1155.6,920.0 L1156.0,950.0 L1157.2,975.0 L1158.5,1000.0 L1160.4,1030.0 L1161.6,1060.0 L1166.0,1090.0 L1172.0,1120.0 L1174.5,1150.0 L1175.1,1181.2 L1175.7,1212.5 L1176.2,1243.8 L1176.8,1275.0 L1177.5,1292.0" fill="none" stroke="#00d400" stroke-width="3.9" stroke-linejoin="round" stroke-linecap="round"/>
<path d="M1559.8,1100.0 L1558.0,1080.0 L1555.0,1012.0 L1552.0,960.0 L1548.5,900.0 L1546.0,745.0 L1542.8,611.0" fill="none" stroke="#00d400" stroke-width="3.9" stroke-linejoin="round" stroke-linecap="round"/>
<path d="M1542.3,611.0 L1542.5,649.9 L1543.1,688.8 L1543.7,727.7 L1543.8,766.6 L1543.8,805.5 L1543.8,844.4 L1543.8,883.3 L1543.8,922.2 L1543.8,961.1 L1543.8,1000.0 L1544.4,1025.0 L1544.6,1050.0 L1546.8,1085.0 L1549.5,1100.0 L1555.4,1136.8 L1562.0,1151.6 L1562.0,1186.3 L1562.0,1221.0" fill="none" stroke="#00d400" stroke-width="3.9" stroke-linejoin="round" stroke-linecap="round"/>
<path d="M220.6 1116.7 L230.9 1134.5 L210.3 1134.5 Z" fill="#00d400"/>
<path d="M233.6 1197.7 L243.9 1215.5 L223.3 1215.5 Z" fill="#00d400"/>
<path d="M314.6 1214.7 L324.9 1232.5 L304.3 1232.5 Z" fill="#00d400"/>
<path d="M400.1 1230.1 L410.4 1247.9 L389.8 1247.9 Z" fill="#00d400"/>
<path d="M438.4 1230.1 L448.7 1247.9 L428.1 1247.9 Z" fill="#00d400"/>
<path d="M404.5 1135.8 L414.8 1153.6 L394.2 1153.6 Z" fill="#00d400"/>
<path d="M391.2 1156.5 L401.5 1174.3 L380.9 1174.3 Z" fill="#00d400"/>
<path d="M472.3 1211.0 L482.6 1228.8 L462.0 1228.8 Z" fill="#00d400"/>
<path d="M549.6 1167.9 L559.9 1185.7 L539.3 1185.7 Z" fill="#00d400"/>
<path d="M635.4 1152.0 L645.7 1169.8 L625.1 1169.8 Z" fill="#00d400"/>
<path d="M722.9 1151.1 L733.2 1168.9 L712.6 1168.9 Z" fill="#00d400"/>
<path d="M787.4 1211.2 L797.7 1229.0 L777.1 1229.0 Z" fill="#00d400"/>
<path d="M802.7 1163.8 L813.0 1181.6 L792.4 1181.6 Z" fill="#00d400"/>
<path d="M842.8 1160.8 L853.1 1178.6 L832.5 1178.6 Z" fill="#00d400"/>
<path d="M787.9 1212.7 L798.2 1230.5 L777.6 1230.5 Z" fill="#00d400"/>
<path d="M789.3 1297.3 L799.6 1315.1 L779.0 1315.1 Z" fill="#00d400"/>
<path d="M842.8 1264.6 L853.1 1282.4 L832.5 1282.4 Z" fill="#00d400"/>
<path d="M919.9 1214.2 L930.2 1232.0 L909.6 1232.0 Z" fill="#00d400"/>
<path d="M1000.0 1183.0 L1010.3 1200.8 L989.7 1200.8 Z" fill="#00d400"/>
<path d="M1090.6 1177.9 L1100.9 1195.7 L1080.3 1195.7 Z" fill="#00d400"/>
<path d="M1182.7 1191.2 L1193.0 1209.0 L1172.4 1209.0 Z" fill="#00d400"/>
<path d="M1218.1 1157.3 L1228.4 1175.1 L1207.8 1175.1 Z" fill="#00d400"/>
<path d="M1172.4 1275.2 L1182.7 1293.0 L1162.1 1293.0 Z" fill="#00d400"/>
<path d="M1224.0 1269.3 L1234.3 1287.1 L1213.7 1287.1 Z" fill="#00d400"/>
<path d="M1308.0 1228.0 L1318.3 1245.8 L1297.7 1245.8 Z" fill="#00d400"/>
<path d="M1391.2 1200.0 L1401.5 1217.8 L1380.9 1217.8 Z" fill="#00d400"/>
<path d="M1480.4 1198.6 L1490.7 1216.4 L1470.1 1216.4 Z" fill="#00d400"/>
<path d="M1562.7 1236.9 L1573.0 1254.7 L1552.4 1254.7 Z" fill="#00d400"/>
<path d="M1629.0 1251.6 L1639.3 1269.4 L1618.7 1269.4 Z" fill="#00d400"/>
<path d="M1720.4 1236.9 L1730.7 1254.7 L1710.1 1254.7 Z" fill="#00d400"/>
<path d="M1811.7 1242.8 L1822.0 1260.6 L1801.4 1260.6 Z" fill="#00d400"/>
<path d="M1907.4 1245.2 L1917.7 1263.0 L1897.1 1263.0 Z" fill="#00d400"/>
<path d="M1986.6 1237.6 L1996.9 1255.4 L1976.3 1255.4 Z" fill="#00d400"/>
<path d="M1990.0 1215.4 L2000.3 1233.2 L1979.7 1233.2 Z" fill="#00d400"/>
<path d="M399.1 1038.4 L409.4 1056.2 L388.8 1056.2 Z" fill="#00d400"/>
<path d="M393.2 864.4 L403.5 882.2 L382.9 882.2 Z" fill="#00d400"/>
<path d="M380.7 960.0 L391.0 977.8 L370.4 977.8 Z" fill="#00d400"/>
<path d="M382.0 1064.8 L392.3 1082.6 L371.7 1082.6 Z" fill="#00d400"/>
<path d="M391.9 1037.1 L402.2 1054.9 L381.6 1054.9 Z" fill="#00d400"/>
<path d="M389.9 853.8 L400.2 871.6 L379.6 871.6 Z" fill="#00d400"/>
<path d="M382.6 663.4 L392.9 681.2 L372.3 681.2 Z" fill="#00d400"/>
<path d="M380.0 712.2 L390.3 730.0 L369.7 730.0 Z" fill="#00d400"/>
<path d="M380.0 833.5 L390.3 851.3 L369.7 851.3 Z" fill="#00d400"/>
<path d="M806.6 1078.0 L816.9 1095.8 L796.3 1095.8 Z" fill="#00d400"/>
<path d="M789.0 971.0 L799.3 988.8 L778.7 988.8 Z" fill="#00d400"/>
<path d="M783.5 868.0 L793.8 885.8 L773.2 885.8 Z" fill="#00d400"/>
<path d="M779.5 772.0 L789.8 789.8 L769.2 789.8 Z" fill="#00d400"/>
<path d="M776.0 624.0 L786.3 641.8 L765.7 641.8 Z" fill="#00d400"/>
<path d="M771.9 445.0 L782.2 462.8 L761.6 462.8 Z" fill="#00d400"/>
<path d="M765.9 281.0 L776.2 298.8 L755.6 298.8 Z" fill="#00d400"/>
<path d="M767.3 371.0 L777.6 388.8 L757.0 388.8 Z" fill="#00d400"/>
<path d="M765.9 411.0 L776.2 428.8 L755.6 428.8 Z" fill="#00d400"/>
<path d="M766.3 600.0 L776.6 617.8 L756.0 617.8 Z" fill="#00d400"/>
<path d="M766.7 641.0 L777.0 658.8 L756.4 658.8 Z" fill="#00d400"/>
<path d="M767.0 737.0 L777.3 754.8 L756.7 754.8 Z" fill="#00d400"/>
<path d="M768.5 827.0 L778.8 844.8 L758.2 844.8 Z" fill="#00d400"/>
<path d="M771.0 913.0 L781.3 930.8 L760.7 930.8 Z" fill="#00d400"/>
<path d="M780.5 999.0 L790.8 1016.8 L770.2 1016.8 Z" fill="#00d400"/>
<path d="M785.0 1081.0 L795.3 1098.8 L774.7 1098.8 Z" fill="#00d400"/>
<path d="M1179.5 1083.0 L1189.8 1100.8 L1169.2 1100.8 Z" fill="#00d400"/>
<path d="M1171.5 1005.0 L1181.8 1022.8 L1161.2 1022.8 Z" fill="#00d400"/>
<path d="M1163.1 895.5 L1173.4 913.3 L1152.8 913.3 Z" fill="#00d400"/>
<path d="M1161.8 782.0 L1172.1 799.8 L1151.5 799.8 Z" fill="#00d400"/>
<path d="M1157.0 612.0 L1167.3 629.8 L1146.7 629.8 Z" fill="#00d400"/>
<path d="M1153.6 475.0 L1163.9 492.8 L1143.3 492.8 Z" fill="#00d400"/>
<path d="M1153.4 656.8 L1163.7 674.6 L1143.1 674.6 Z" fill="#00d400"/>
<path d="M1154.7 816.4 L1165.0 834.2 L1144.4 834.2 Z" fill="#00d400"/>
<path d="M1157.3 913.3 L1167.6 931.1 L1147.0 931.1 Z" fill="#00d400"/>
<path d="M1161.3 1002.3 L1171.6 1020.1 L1151.0 1020.1 Z" fill="#00d400"/>
<path d="M1172.5 1122.0 L1182.8 1139.8 L1162.2 1139.8 Z" fill="#00d400"/>
<path d="M1558.7 1146.0 L1569.0 1163.8 L1548.4 1163.8 Z" fill="#00d400"/>
<path d="M1553.1 1010.4 L1563.4 1028.2 L1542.8 1028.2 Z" fill="#00d400"/>
<path d="M1548.5 881.2 L1558.8 899.0 L1538.2 899.0 Z" fill="#00d400"/>
<path d="M1546.3 733.2 L1556.6 751.0 L1536.0 751.0 Z" fill="#00d400"/>
<path d="M1543.6 618.5 L1553.9 636.3 L1533.3 636.3 Z" fill="#00d400"/>
<path d="M1542.3 665.9 L1552.6 683.7 L1532.0 683.7 Z" fill="#00d400"/>
<path d="M1542.3 774.0 L1552.6 791.8 L1532.0 791.8 Z" fill="#00d400"/>
<path d="M1541.6 813.6 L1551.9 831.4 L1531.3 831.4 Z" fill="#00d400"/>
<path d="M1541.4 858.4 L1551.7 876.2 L1531.1 876.2 Z" fill="#00d400"/>
<path d="M1543.4 949.8 L1553.7 967.6 L1533.1 967.6 Z" fill="#00d400"/>
<path d="M220.5,1000.0 L224.7,1080.0 L226.9,1094.7 L229.2,1113.9 L232.1,1131.6 L234.3,1153.7 L236.2,1174.3 L238.7,1168.4 L241.7,1156.6 L245.4,1152.9 L252.7,1153.7 L268.9,1159.6 L291.0,1157.4 L316.1,1157.4 L339.7,1162.5 L354.4,1161.0 L364.7,1165.5 L373.5,1180.2 L388.3,1192.7 L400.1,1193.5 L403.0,1183.1 L410.4,1189.0 L420.7,1197.9 L435.4,1206.7 L445.7,1212.6 L460.5,1217.0 L460.5,1217.0 L453.1,1208.2 L448.7,1197.9 L435.4,1189.0 L431.0,1180.2 L420.7,1171.4 L411.9,1164.0 L401.5,1139.0 L400.4,1090.0 L399.1,1008.2 L393.8,955.5 L388.6,889.6 L386.0,850.0 L382.0,752.0 L379.5,752.0 L379.5,755.0 L379.3,786.7 L379.0,818.3 L378.8,850.0 L378.5,883.0 L378.2,916.0 L378.8,942.0 L379.3,968.0 L380.2,994.7 L381.1,1021.3 L382.0,1048.0 L382.6,1069.0 L383.3,1090.0 L386.0,1100.0 L389.0,1124.0 L392.7,1139.0 L397.0,1162.0 L400.0,1183.0 L400.0,1211.0 L400.0,1239.0 L400.1,1233.2 L406.0,1231.8 L428.1,1233.2 L445.7,1224.4 L460.5,1218.5 L473.7,1205.2 L482.6,1199.3 L498.8,1188.3 L510.0,1188.3 L514.3,1186.6 L521.3,1181.3 L531.9,1180.4 L542.5,1179.6 L563.8,1176.0 L581.4,1177.8 L595.6,1174.3 L606.2,1166.3 L618.6,1162.8 L627.4,1170.7 L639.8,1170.7 L645.1,1172.5 L657.5,1161.0 L668.1,1164.5 L678.7,1167.2 L694.6,1176.9 L703.4,1168.1 L722.9,1164.5 L740.6,1167.2 L754.7,1170.7 L759.7,1186.1 L771.5,1193.5 L786.4,1200.9 L796.8,1196.5 L802.7,1186.1 L810.1,1175.7 L819.0,1186.1 L830.9,1183.1 L839.8,1178.7 L839.8,1178.7 L839.8,1163.9 L835.3,1149.0 L829.4,1132.7 L822.0,1104.5 L816.1,1089.7 L807.2,1074.8 L802.9,1063.0 L797.6,1043.6 L789.7,1030.0 L785.7,1005.0 L782.0,950.0 L779.0,890.0 L776.7,830.0 L774.0,760.0 L772.5,680.0 L770.0,600.0 L766.5,553.0 L766.0,553.0 L766.0,560.0 L766.1,595.0 L766.2,630.0 L766.4,665.0 L766.5,700.0 L767.0,733.3 L767.5,766.7 L768.0,800.0 L769.6,830.0 L770.5,865.0 L771.5,900.0 L772.5,925.0 L773.6,950.0 L775.8,970.0 L778.0,990.0 L781.0,1015.0 L784.4,1045.0 L786.4,1060.0 L786.8,1092.5 L787.1,1125.0 L787.5,1157.5 L787.9,1190.0 L788.4,1226.7 L788.8,1263.3 L789.3,1300.0 L789.3,1301.8 L804.2,1291.5 L819.0,1284.0 L833.9,1273.6 L859.1,1257.3 L878.4,1242.5 L896.2,1230.6 L915.5,1223.2 L930.3,1214.3 L939.2,1206.9 L949.6,1202.4 L957.0,1198.0 L967.4,1198.7 L982.2,1197.2 L997.1,1196.5 L1007.4,1200.9 L1016.4,1202.4 L1025.3,1198.0 L1025.0,1198.0 L1035.4,1202.4 L1050.1,1198.7 L1066.3,1203.9 L1076.6,1198.0 L1088.4,1188.4 L1100.2,1188.4 L1117.9,1190.6 L1129.7,1195.8 L1141.4,1203.1 L1150.3,1212.7 L1162.1,1206.1 L1173.9,1209.0 L1176.8,1212.0 L1191.5,1217.9 L1197.4,1213.5 L1212.2,1211.2 L1218.1,1209.0 L1222.5,1217.9 L1226.9,1210.5 L1226.9,1195.8 L1225.4,1194.3 L1224.0,1179.6 L1216.6,1161.9 L1210.7,1148.6 L1203.3,1133.9 L1190.1,1116.2 L1181.2,1107.4 L1176.5,1090.0 L1169.5,1060.0 L1163.5,1000.0 L1159.8,950.0 L1157.8,860.0 L1157.0,760.0 L1156.0,700.0 L1154.5,668.0 L1153.9,668.0 L1153.7,706.4 L1153.6,744.8 L1153.5,783.2 L1153.4,821.6 L1153.3,860.0 L1153.7,890.0 L1154.1,920.0 L1154.5,950.0 L1155.8,975.0 L1157.0,1000.0 L1159.0,1030.0 L1161.0,1060.0 L1166.0,1090.0 L1172.0,1120.0 L1174.5,1150.0 L1175.1,1181.2 L1175.7,1212.5 L1176.2,1243.8 L1176.8,1275.0 L1177.5,1292.0 L1176.8,1291.5 L1200.4,1282.0 L1221.0,1270.2 L1235.7,1262.8 L1250.5,1251.0 L1265.2,1244.1 L1282.9,1238.8 L1300.0,1234.8 L1294.7,1232.6 L1305.0,1229.7 L1328.6,1225.2 L1346.3,1222.3 L1359.6,1222.3 L1370.6,1223.8 L1383.1,1216.4 L1392.0,1217.9 L1402.3,1209.0 L1412.6,1215.7 L1424.4,1209.0 L1436.2,1212.0 L1451.7,1209.0 L1468.6,1213.5 L1483.3,1206.1 L1501.0,1206.8 L1530.5,1206.8 L1536.4,1212.0 L1542.3,1217.9 L1552.6,1216.4 L1562.9,1214.9 L1567.1,1219.3 L1578.9,1226.7 L1593.7,1217.9 L1608.4,1225.2 L1617.2,1216.4 L1614.3,1212.0 L1614.3,1212.0 L1611.4,1200.2 L1602.5,1188.4 L1596.6,1173.7 L1581.9,1163.4 L1570.1,1151.6 L1564.2,1129.5 L1557.0,1100.0 L1553.0,1080.0 L1551.0,1012.0 L1548.0,960.0 L1545.5,900.0 L1542.8,851.0 L1542.3,851.0 L1542.3,888.2 L1542.3,925.5 L1542.3,962.8 L1542.3,1000.0 L1542.9,1025.0 L1543.5,1050.0 L1546.5,1085.0 L1549.5,1100.0 L1555.4,1136.8 L1562.0,1151.6 L1562.0,1186.3 L1562.0,1221.0 L1562.0,1222.3 L1571.6,1228.2 L1586.3,1225.2 L1596.6,1217.9 L1605.5,1216.4 L1614.3,1206.1 L1632.0,1204.6 L1642.3,1197.2 L1654.1,1200.2 L1673.2,1194.3 L1693.9,1188.4 L1705.6,1183.2 L1717.4,1189.9 L1729.2,1185.5 L1738.1,1191.4 L1748.4,1192.1 L1756.5,1188.4 L1770.5,1184.0 L1782.3,1181.8 L1792.6,1191.4 L1804.4,1197.2 L1813.2,1189.9 L1820.0,1188.4 L1824.7,1187.8 L1840.1,1190.4 L1852.0,1187.8 L1862.2,1192.9 L1869.0,1181.0 L1889.5,1173.3 L1906.5,1168.2 L1924.4,1169.9 L1940.6,1169.9 L1952.5,1164.8 L1964.4,1160.5 L1972.9,1168.2 L1980.6,1180.1 L1986.6,1161.4 L1989.1,1139.3 L1990.8,1129.0 L1992.5,1105.2 L1994.8,1064.3" fill="none" stroke="#3333ff" stroke-width="3.5" stroke-linejoin="round" stroke-linecap="round"/>
<path d="M400.4,1090.0 L399.1,1008.2 L393.8,955.5 L388.6,889.6 L386.0,850.0 L382.0,752.0" fill="none" stroke="#3333ff" stroke-width="3.9" stroke-linejoin="round" stroke-linecap="round"/>
<path d="M379.5,752.0 L379.5,755.0 L379.3,786.7 L379.0,818.3 L378.8,850.0 L378.5,883.0 L378.2,916.0 L378.8,942.0 L379.3,968.0 L380.2,994.7 L381.1,1021.3 L382.0,1048.0 L382.6,1069.0 L383.3,1090.0 L386.0,1100.0 L389.0,1124.0 L392.7,1139.0 L397.0,1162.0 L400.0,1183.0 L400.0,1211.0 L400.0,1239.0" fill="none" stroke="#3333ff" stroke-width="3.9" stroke-linejoin="round" stroke-linecap="round"/>
<path d="M797.6,1043.6 L789.7,1030.0 L785.7,1005.0 L782.0,950.0 L779.0,890.0 L776.7,830.0 L774.0,760.0 L772.5,680.0 L770.0,600.0 L766.5,553.0" fill="none" stroke="#3333ff" stroke-width="3.9" stroke-linejoin="round" stroke-linecap="round"/>
<path d="M766.0,553.0 L766.0,560.0 L766.1,595.0 L766.2,630.0 L766.4,665.0 L766.5,700.0 L767.0,733.3 L767.5,766.7 L768.0,800.0 L769.6,830.0 L770.5,865.0 L771.5,900.0 L772.5,925.0 L773.6,950.0 L775.8,970.0 L778.0,990.0 L781.0,1015.0 L784.4,1045.0 L786.4,1060.0 L786.8,1092.5 L787.1,1125.0 L787.5,1157.5 L787.9,1190.0 L788.4,1226.7 L788.8,1263.3 L789.3,1300.0" fill="none" stroke="#3333ff" stroke-width="3.9" stroke-linejoin="round" stroke-linecap="round"/>
<path d="M1176.5,1090.0 L1169.5,1060.0 L1163.5,1000.0 L1159.8,950.0 L1157.8,860.0 L1157.0,760.0 L1156.0,700.0 L1154.5,668.0" fill="none" stroke="#3333ff" stroke-width="3.9" stroke-linejoin="round" stroke-linecap="round"/>
<path d="M1153.9,668.0 L1153.7,706.4 L1153.6,744.8 L1153.5,783.2 L1153.4,821.6 L1153.3,860.0 L1153.7,890.0 L1154.1,920.0 L1154.5,950.0 L1155.8,975.0 L1157.0,1000.0 L1159.0,1030.0 L1161.0,1060.0 L1166.0,1090.0 L1172.0,1120.0 L1174.5,1150.0 L1175.1,1181.2 L1175.7,1212.5 L1176.2,1243.8 L1176.8,1275.0 L1177.5,1292.0" fill="none" stroke="#3333ff" stroke-width="3.9" stroke-linejoin="round" stroke-linecap="round"/>
<path d="M1557.0,1100.0 L1553.0,1080.0 L1551.0,1012.0 L1548.0,960.0 L1545.5,900.0 L1542.8,851.0" fill="none" stroke="#3333ff" stroke-width="3.9" stroke-linejoin="round" stroke-linecap="round"/>
<path d="M1542.3,851.0 L1542.3,888.2 L1542.3,925.5 L1542.3,962.8 L1542.3,1000.0 L1542.9,1025.0 L1543.5,1050.0 L1546.5,1085.0 L1549.5,1100.0 L1555.4,1136.8 L1562.0,1151.6 L1562.0,1186.3 L1562.0,1221.0" fill="none" stroke="#3333ff" stroke-width="3.9" stroke-linejoin="round" stroke-linecap="round"/>
<path d="M220.5 1012.0 L230.8 994.2 L210.2 994.2 Z" fill="#3333ff"/>
<path d="M230.6 1128.8 L240.9 1111.0 L220.3 1111.0 Z" fill="#3333ff"/>
<path d="M252.7 1167.1 L263.0 1149.3 L242.4 1149.3 Z" fill="#3333ff"/>
<path d="M354.4 1173.8 L364.7 1156.0 L344.1 1156.0 Z" fill="#3333ff"/>
<path d="M420.7 1209.9 L431.0 1192.1 L410.4 1192.1 Z" fill="#3333ff"/>
<path d="M448.7 1221.7 L459.0 1203.9 L438.4 1203.9 Z" fill="#3333ff"/>
<path d="M460.5 1229.0 L470.8 1211.2 L450.2 1211.2 Z" fill="#3333ff"/>
<path d="M403.0 1165.7 L413.3 1147.9 L392.7 1147.9 Z" fill="#3333ff"/>
<path d="M400.1 1183.4 L410.4 1165.6 L389.8 1165.6 Z" fill="#3333ff"/>
<path d="M400.1 1220.2 L410.4 1202.4 L389.8 1202.4 Z" fill="#3333ff"/>
<path d="M400.4 1086.2 L410.7 1068.4 L390.1 1068.4 Z" fill="#3333ff"/>
<path d="M395.8 971.5 L406.1 953.7 L385.5 953.7 Z" fill="#3333ff"/>
<path d="M385.3 884.4 L395.6 866.6 L375.0 866.6 Z" fill="#3333ff"/>
<path d="M378.0 927.9 L388.3 910.1 L367.7 910.1 Z" fill="#3333ff"/>
<path d="M379.3 979.4 L389.6 961.6 L369.0 961.6 Z" fill="#3333ff"/>
<path d="M383.3 1083.5 L393.6 1065.7 L373.0 1065.7 Z" fill="#3333ff"/>
<path d="M382.6 767.8 L392.9 750.0 L372.3 750.0 Z" fill="#3333ff"/>
<path d="M378.7 845.6 L389.0 827.8 L368.4 827.8 Z" fill="#3333ff"/>
<path d="M542.5 1191.6 L552.8 1173.8 L532.2 1173.8 Z" fill="#3333ff"/>
<path d="M627.4 1182.7 L637.7 1164.9 L617.1 1164.9 Z" fill="#3333ff"/>
<path d="M703.4 1180.1 L713.7 1162.3 L693.1 1162.3 Z" fill="#3333ff"/>
<path d="M787.4 1212.8 L797.7 1195.0 L777.1 1195.0 Z" fill="#3333ff"/>
<path d="M833.9 1196.6 L844.2 1178.8 L823.6 1178.8 Z" fill="#3333ff"/>
<path d="M829.4 1144.7 L839.7 1126.9 L819.1 1126.9 Z" fill="#3333ff"/>
<path d="M789.3 1307.9 L799.6 1290.1 L779.0 1290.1 Z" fill="#3333ff"/>
<path d="M819.0 1296.0 L829.3 1278.2 L808.7 1278.2 Z" fill="#3333ff"/>
<path d="M859.1 1269.3 L869.4 1251.5 L848.8 1251.5 Z" fill="#3333ff"/>
<path d="M939.2 1218.9 L949.5 1201.1 L928.9 1201.1 Z" fill="#3333ff"/>
<path d="M1016.4 1214.4 L1026.7 1196.6 L1006.1 1196.6 Z" fill="#3333ff"/>
<path d="M799.7 1064.0 L810.0 1046.2 L789.4 1046.2 Z" fill="#3333ff"/>
<path d="M780.8 962.6 L791.1 944.8 L770.5 944.8 Z" fill="#3333ff"/>
<path d="M776.9 876.7 L787.2 858.9 L766.6 858.9 Z" fill="#3333ff"/>
<path d="M773.6 771.1 L783.9 753.3 L763.3 753.3 Z" fill="#3333ff"/>
<path d="M767.9 615.5 L778.2 597.7 L757.6 597.7 Z" fill="#3333ff"/>
<path d="M766.0 677.5 L776.3 659.7 L755.7 659.7 Z" fill="#3333ff"/>
<path d="M767.3 808.0 L777.6 790.2 L757.0 790.2 Z" fill="#3333ff"/>
<path d="M769.5 895.6 L779.8 877.8 L759.2 877.8 Z" fill="#3333ff"/>
<path d="M775.6 981.5 L785.9 963.7 L765.3 963.7 Z" fill="#3333ff"/>
<path d="M784.2 1058.9 L794.5 1041.1 L773.9 1041.1 Z" fill="#3333ff"/>
<path d="M1100.2 1200.4 L1110.5 1182.6 L1089.9 1182.6 Z" fill="#3333ff"/>
<path d="M1176.8 1224.0 L1187.1 1206.2 L1166.5 1206.2 Z" fill="#3333ff"/>
<path d="M1225.4 1206.3 L1235.7 1188.5 L1215.1 1188.5 Z" fill="#3333ff"/>
<path d="M1190.1 1128.2 L1200.4 1110.4 L1179.8 1110.4 Z" fill="#3333ff"/>
<path d="M1173.9 1181.3 L1184.2 1163.5 L1163.6 1163.5 Z" fill="#3333ff"/>
<path d="M1176.1 1285.9 L1186.4 1268.1 L1165.8 1268.1 Z" fill="#3333ff"/>
<path d="M1200.4 1293.2 L1210.7 1275.4 L1190.1 1275.4 Z" fill="#3333ff"/>
<path d="M1282.9 1250.5 L1293.2 1232.7 L1272.6 1232.7 Z" fill="#3333ff"/>
<path d="M1153.6 711.1 L1163.9 693.3 L1143.3 693.3 Z" fill="#3333ff"/>
<path d="M1155.0 872.0 L1165.3 854.2 L1144.7 854.2 Z" fill="#3333ff"/>
<path d="M1156.3 977.5 L1166.6 959.7 L1146.0 959.7 Z" fill="#3333ff"/>
<path d="M1162.9 1006.5 L1173.2 988.7 L1152.6 988.7 Z" fill="#3333ff"/>
<path d="M1161.5 1060.6 L1171.8 1042.8 L1151.2 1042.8 Z" fill="#3333ff"/>
<path d="M1169.5 1093.5 L1179.8 1075.7 L1159.2 1075.7 Z" fill="#3333ff"/>
<path d="M1370.6 1235.8 L1380.9 1218.0 L1360.3 1218.0 Z" fill="#3333ff"/>
<path d="M1451.7 1221.0 L1462.0 1203.2 L1441.4 1203.2 Z" fill="#3333ff"/>
<path d="M1542.3 1229.9 L1552.6 1212.1 L1532.0 1212.1 Z" fill="#3333ff"/>
<path d="M1562.9 1231.3 L1573.2 1213.5 L1552.6 1213.5 Z" fill="#3333ff"/>
<path d="M1586.3 1234.3 L1596.6 1216.5 L1576.0 1216.5 Z" fill="#3333ff"/>
<path d="M1611.4 1237.2 L1621.7 1219.4 L1601.1 1219.4 Z" fill="#3333ff"/>
<path d="M1602.5 1206.3 L1612.8 1188.5 L1592.2 1188.5 Z" fill="#3333ff"/>
<path d="M1549.5 1150.3 L1559.8 1132.5 L1539.2 1132.5 Z" fill="#3333ff"/>
<path d="M1673.2 1207.8 L1683.5 1190.0 L1662.9 1190.0 Z" fill="#3333ff"/>
<path d="M1756.5 1203.4 L1766.8 1185.6 L1746.2 1185.6 Z" fill="#3333ff"/>
<path d="M1541.0 906.5 L1551.3 888.7 L1530.7 888.7 Z" fill="#3333ff"/>
<path d="M1546.3 927.6 L1556.6 909.8 L1536.0 909.8 Z" fill="#3333ff"/>
<path d="M1541.0 994.9 L1551.3 977.1 L1530.7 977.1 Z" fill="#3333ff"/>
<path d="M1547.6 1010.7 L1557.9 992.9 L1537.3 992.9 Z" fill="#3333ff"/>
<path d="M1542.3 1064.8 L1552.6 1047.0 L1532.0 1047.0 Z" fill="#3333ff"/>
<path d="M1552.9 1118.8 L1563.2 1101.0 L1542.6 1101.0 Z" fill="#3333ff"/>
<path d="M1840.1 1202.4 L1850.4 1184.6 L1829.8 1184.6 Z" fill="#3333ff"/>
<path d="M1924.4 1181.9 L1934.7 1164.1 L1914.1 1164.1 Z" fill="#3333ff"/>
<path d="M1986.6 1173.4 L1996.9 1155.6 L1976.3 1155.6 Z" fill="#3333ff"/>
<path d="M1990.8 1141.0 L2001.1 1123.2 L1980.5 1123.2 Z" fill="#3333ff"/>
<g stroke="#000" stroke-width="7.8">
<line x1="220.4" y1="1471.8" x2="262.0" y2="1471.8"/>
<line x1="220.4" y1="1294.9" x2="262.0" y2="1294.9"/>
<line x1="220.4" y1="1118.5" x2="262.0" y2="1118.5"/>
<line x1="220.4" y1="942.0" x2="262.0" y2="942.0"/>
<line x1="220.4" y1="765.6" x2="262.0" y2="765.6"/>
<line x1="220.4" y1="589.2" x2="262.0" y2="589.2"/>
<line x1="220.4" y1="412.8" x2="262.0" y2="412.8"/>
<line x1="220.4" y1="236.3" x2="262.0" y2="236.3"/>
<line x1="608.5" y1="1648.6" x2="608.5" y2="1607.0"/>
<line x1="996.1" y1="1648.6" x2="996.1" y2="1607.0"/>
<line x1="1383.6" y1="1648.6" x2="1383.6" y2="1607.0"/>
<line x1="1771.2" y1="1648.6" x2="1771.2" y2="1607.0"/>
</g>
<g stroke="#000" stroke-width="7.6" fill="none">
<rect x="220.4" y="59.5" width="1783.6" height="1589.1"/>
<line x1="220.4" y1="1329.5" x2="2004.0" y2="1329.5"/>
</g>
<g font-size="64.5" text-anchor="end" stroke="#000" stroke-width="0.15">
<text transform="translate(197.5,1670.5) scale(0.96,1)">−20</text>
<text transform="translate(197.5,1493.6) scale(0.96,1)">−10</text>
<text transform="translate(197.5,1316.7) scale(0.96,1)">0</text>
<text transform="translate(197.5,1140.3) scale(0.96,1)">10</text>
<text transform="translate(197.5,963.8) scale(0.96,1)">20</text>
<text transform="translate(197.5,787.4) scale(0.96,1)">30</text>
<text transform="translate(197.5,611.0) scale(0.96,1)">40</text>
<text transform="translate(197.5,434.6) scale(0.96,1)">50</text>
<text transform="translate(197.5,258.1) scale(0.96,1)">60</text>
<text transform="translate(197.5,81.7) scale(0.96,1)">70</text>
</g>
<g font-size="64.5" text-anchor="middle" stroke="#000" stroke-width="0.15">
<text transform="translate(220.0,1712.5) scale(0.96,1)">0</text>
<text transform="translate(607.5,1712.5) scale(0.96,1)">0.005</text>
<text transform="translate(995.1,1712.5) scale(0.96,1)">0.01</text>
<text transform="translate(1382.6,1712.5) scale(0.96,1)">0.015</text>
<text transform="translate(1770.2,1712.5) scale(0.96,1)">0.02</text>
</g>
<text class="b" font-size="75.5" text-anchor="middle" x="1113.5" y="1781.5">x Axis(m)</text>
<text class="b" font-size="73.6" text-anchor="middle" transform="translate(79,852) rotate(-90)">nusselt number</text>
<rect x="1340.5" y="117.8" width="618" height="246.2" fill="#fff" stroke="#000" stroke-width="5.5"/>
<line x1="1367" y1="152.8" x2="1656.5" y2="152.8" stroke="#d40000" stroke-width="5.3"/>
<circle cx="1510.8" cy="152.8" r="10.2" fill="#d40000"/>
<text font-size="64" stroke="#000" stroke-width="0.7" transform="translate(1687.0,179.5) scale(0.9,1)">3,000rpm</text>
<line x1="1367" y1="236.7" x2="1656.5" y2="236.7" stroke="#00d400" stroke-width="5.3"/>
<path d="M1510.8 222.8 L1522.7 243.4 L1498.9 243.4 Z" fill="#00d400"/>
<text font-size="64" stroke="#000" stroke-width="0.7" transform="translate(1687.0,254.0) scale(0.9,1)">6,000rpm</text>
<line x1="1367" y1="321.0" x2="1656.5" y2="321.0" stroke="#3333ff" stroke-width="5.3"/>
<path d="M1510.8 334.9 L1522.7 314.3 L1498.9 314.3 Z" fill="#3333ff"/>
<text font-size="64" stroke="#000" stroke-width="0.7" transform="translate(1687.0,328.3) scale(0.9,1)">12,000rpm</text>
<rect x="1667.5" y="1354" width="305.5" height="71.5" fill="#fff" stroke="#000" stroke-width="3.6"/>
<text class="b" font-size="67.5" text-anchor="middle" transform="translate(1823.5,1407) scale(0.95,1)">geometry</text>
</g>
</svg></body></html>
